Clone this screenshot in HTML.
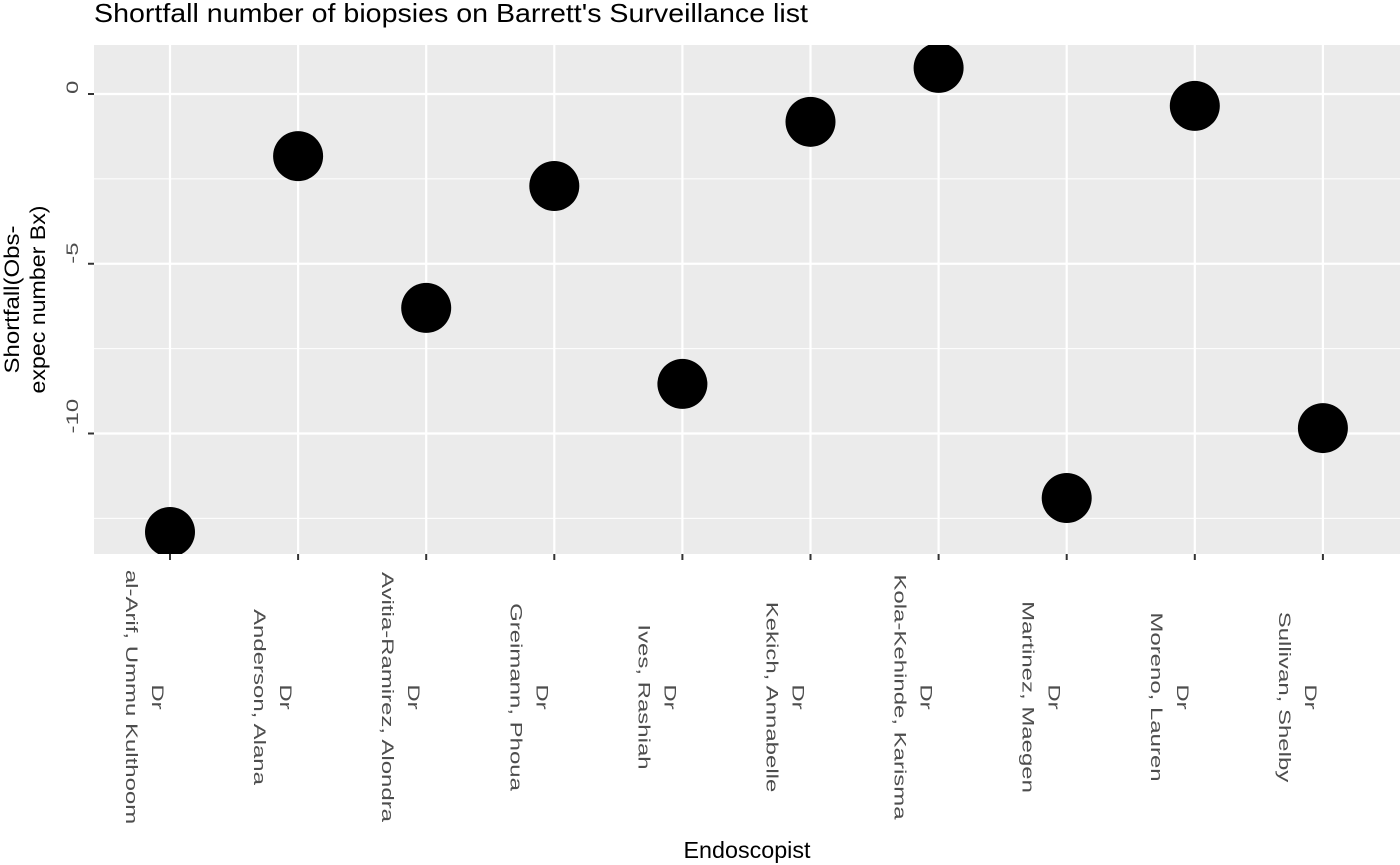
<!DOCTYPE html>
<html><head><meta charset="utf-8"><style>
html,body{margin:0;padding:0;background:#fff;}
svg{display:block;font-family:"Liberation Sans",Arial,sans-serif;}
</style></head><body>
<svg id="chart" width="1400" height="865" viewBox="0 0 1400 865">
<text x="94" y="22" font-size="26" textLength="714" lengthAdjust="spacingAndGlyphs" fill="#000">Shortfall number of biopsies on Barrett's Surveillance list</text>
<rect x="94" y="45" width="1306" height="509" fill="#ebebeb"/>
<g id="grid"></g>
<g id="points"></g>
<g id="axes"></g>
<g transform="translate(19,299.5) rotate(-90)">
<text x="0" y="0" text-anchor="middle" font-size="21" textLength="148" lengthAdjust="spacingAndGlyphs" fill="#000">Shortfall(Obs-</text>
<text x="0" y="26" text-anchor="middle" font-size="21" textLength="188" lengthAdjust="spacingAndGlyphs" fill="#000">expec number Bx)</text>
</g>
<text x="747" y="858" text-anchor="middle" font-size="23" textLength="127" lengthAdjust="spacingAndGlyphs" fill="#000">Endoscopist</text>
</svg>
<script>
const categories = ["al-Arif, Ummu Kulthoom","Anderson, Alana","Avitia-Ramirez, Alondra","Greimann, Phoua","Ives, Rashiah","Kekich, Annabelle","Kola-Kehinde, Karisma","Martinez, Maegen","Moreno, Lauren","Sullivan, Shelby"];
const values = [-12.9, -1.83, -6.3, -2.71, -8.54, -0.82, 0.77, -11.9, -0.35, -9.84];
const yTicks = [0, -5, -10];
const yMinor = [-2.5, -7.5, -12.5];

const NS = "http://www.w3.org/2000/svg";
const panel = {x0:94, x1:1400, y0:45, y1:554};
const xFirst = 170, xStep = 128.1;
const STRETCH = 1.41;
function xScale(i){ return xFirst + i*xStep; }
function yScale(v){ return 94 - v*33.95; }
function mk(tag, attrs, parent){
  const e = document.createElementNS(NS, tag);
  for (const k in attrs) e.setAttribute(k, attrs[k]);
  parent.appendChild(e); return e;
}
function stretch(t){
  const w = t.getComputedTextLength();
  t.setAttribute('textLength', (w*STRETCH).toFixed(1));
  t.setAttribute('lengthAdjust', 'spacingAndGlyphs');
}
const grid = document.getElementById('grid');
const pts = document.getElementById('points');
const axes = document.getElementById('axes');

yMinor.forEach(v => {
  const l = mk('line', {x1:panel.x0, x2:panel.x1, y1:yScale(v), y2:yScale(v), stroke:'#fff', 'stroke-width':1.1}, grid);
  
  
});
yTicks.forEach(v => {
  const l = mk('line', {x1:panel.x0, x2:panel.x1, y1:yScale(v), y2:yScale(v), stroke:'#fff', 'stroke-width':2.2}, grid);
  
  
  const t = mk('line', {x1:88, x2:94, y1:yScale(v), y2:yScale(v), stroke:'#333', 'stroke-width':2}, axes);
  
  
  const g = mk('g', {transform:`translate(78,${yScale(v)}) rotate(-90)`}, axes);
  const tx = mk('text', {x:0, y:0, 'text-anchor':'start', 'font-size':17, fill:'#4d4d4d'}, g);
  tx.textContent = String(v);
  
  
  stretch(tx);
});
categories.forEach((c, i) => {
  const x = xScale(i);
  const l = mk('line', {x1:x, x2:x, y1:panel.y0, y2:panel.y1, stroke:'#fff', 'stroke-width':2.2}, grid);
  
  
  const t = mk('line', {x1:x, x2:x, y1:554, y2:560, stroke:'#333', 'stroke-width':2}, axes);
  
  
  const g = mk('g', {transform:`translate(${x},697) rotate(90)`}, axes);
  
  
  const a = mk('text', {x:0, y:18, 'text-anchor':'middle', 'font-size':17, fill:'#4d4d4d'}, g);
  a.textContent = 'Dr';
  stretch(a);
  const b = mk('text', {x:0, y:44, 'text-anchor':'middle', 'font-size':17, fill:'#4d4d4d'}, g);
  b.textContent = c;
  stretch(b);
});
const clip = mk('clipPath', {id:'pclip'}, document.getElementById('chart'));
mk('rect', {x:panel.x0, y:panel.y0, width:panel.x1-panel.x0, height:panel.y1-panel.y0}, clip);
pts.setAttribute('clip-path', 'url(#pclip)');
values.forEach((v, i) => {
  const p = mk('circle', {cx:xScale(i), cy:yScale(v), r:25, fill:'#000'}, pts);
  
  
});
</script>
</body></html>
